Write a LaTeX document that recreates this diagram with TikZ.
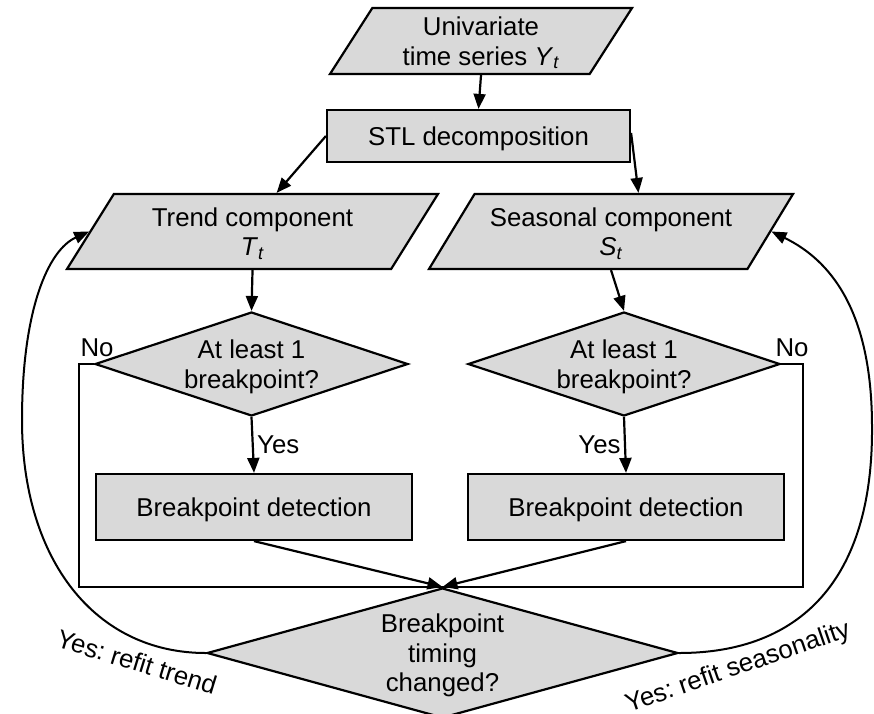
\documentclass[tikz,border=0pt]{standalone}
\usepackage{fontspec}
\setmainfont{Liberation Sans}
\usetikzlibrary{shapes.geometric,arrows.meta}
\definecolor{boxgray}{RGB}{217,217,217}
\newcommand{\ivar}[2]{\textit{#1}\textsubscript{\textit{#2}}}
\frenchspacing
\begin{document}
\begin{tikzpicture}[x=1pt,y=-1pt,
  every node/.style={font=\fontsize{25.8}{29.5}\selectfont},
  shapebase/.style={draw=black, line width=2.2pt, fill=boxgray, inner sep=0pt,
                    align=center, text depth=0pt},
  procbox/.style={shapebase, rectangle},
  iobox/.style={shapebase, trapezium, trapezium stretches body},
  decision/.style={shapebase, diamond},
  flow/.style={line width=2.2pt, -{Triangle[length=15pt,width=12pt]}},
  link/.style={line width=2.2pt},
  loop/.style={line width=2pt, -{Triangle[length=15pt,width=12pt]}}]
\useasboundingbox (0,0) rectangle (874,713);
\clip (0,0) rectangle (874,713);

% nodes
\node[iobox, trapezium left angle=48.7, trapezium right angle=131.3,
      minimum width=302pt, minimum height=66pt] (series) at (481,41)
      {Univariate\\time series \ivar{Y}{t}};
\node[procbox, minimum width=303pt, minimum height=52pt] (stl) at (478.5,136)
      {STL decomposition};
\node[iobox, trapezium left angle=45.8, trapezium right angle=134.2,
      minimum width=371pt, minimum height=75pt] (trend) at (252.5,231.5)
      {Trend component\\\ivar{T}{t}};
\node[iobox, trapezium left angle=46.6, trapezium right angle=133.4,
      minimum width=364pt, minimum height=75pt] (seas) at (611,231.5)
      {Seasonal component\\\ivar{S}{t}};
\node[decision, aspect=3, minimum width=313pt, minimum height=104pt] (tcheck) at (251.5,364)
      {At least 1\\breakpoint?};
\node[decision, aspect=3, minimum width=312pt, minimum height=104pt] (scheck) at (624,364)
      {At least 1\\breakpoint?};
\node[procbox, minimum width=316pt, minimum height=66pt] (tdetect) at (254,507)
      {Breakpoint detection};
\node[procbox, minimum width=316pt, minimum height=66pt] (sdetect) at (626,507)
      {Breakpoint detection};
\node[decision, aspect=3.6, minimum width=471pt, minimum height=130pt] (changed) at (442.5,653)
      {Breakpoint\\timing\\changed?};

% labels
\node (tno) at (97,348) {No};
\node (sno) at (792,348) {No};
\node (trefit) [rotate=-17] at (137,662) {Yes: refit trend};
\node (srefit) [rotate=19] at (738,668) {Yes: refit seasonality};

% main flow
\draw[flow] (series.south) -- (stl.north);
\draw[flow] (stl.west) -- (trend.top side);
\draw[flow] ([yshift=3pt]stl.east) -- ([xshift=4pt]seas.top side);
\draw[flow] (trend.south) -- (tcheck.north);
\draw[flow] (seas.south) -- (scheck.north);
\draw[flow] (tcheck.south) -- node[right] (tyes) {Yes} (tdetect.north);
\draw[flow] (scheck.south) -- node[left] (syes) {Yes} (sdetect.north);
\draw[flow] (tdetect.south) -- (changed.north);
\draw[flow] (sdetect.south) -- (changed.north);

% "No" branches skip the detection step
\draw[link] (tcheck.west) -- ++(-15,0) |- (changed.north);
\draw[link] (scheck.east) -- ++(22,0) |- (changed.north);

% refit loops
\coordinate (tloop) at (22,420);
\coordinate (sloop) at (872,427);
\draw[loop] (changed.west) .. controls (95,653) and (22,560) .. (tloop)
            .. controls (22,310) and (48,250) .. (trend.left side);
\draw[loop] (changed.east) .. controls (800,653) and (873,580) .. (sloop)
            .. controls (872,310) and (830,260) .. (seas.right side);
\end{tikzpicture}
\end{document}
